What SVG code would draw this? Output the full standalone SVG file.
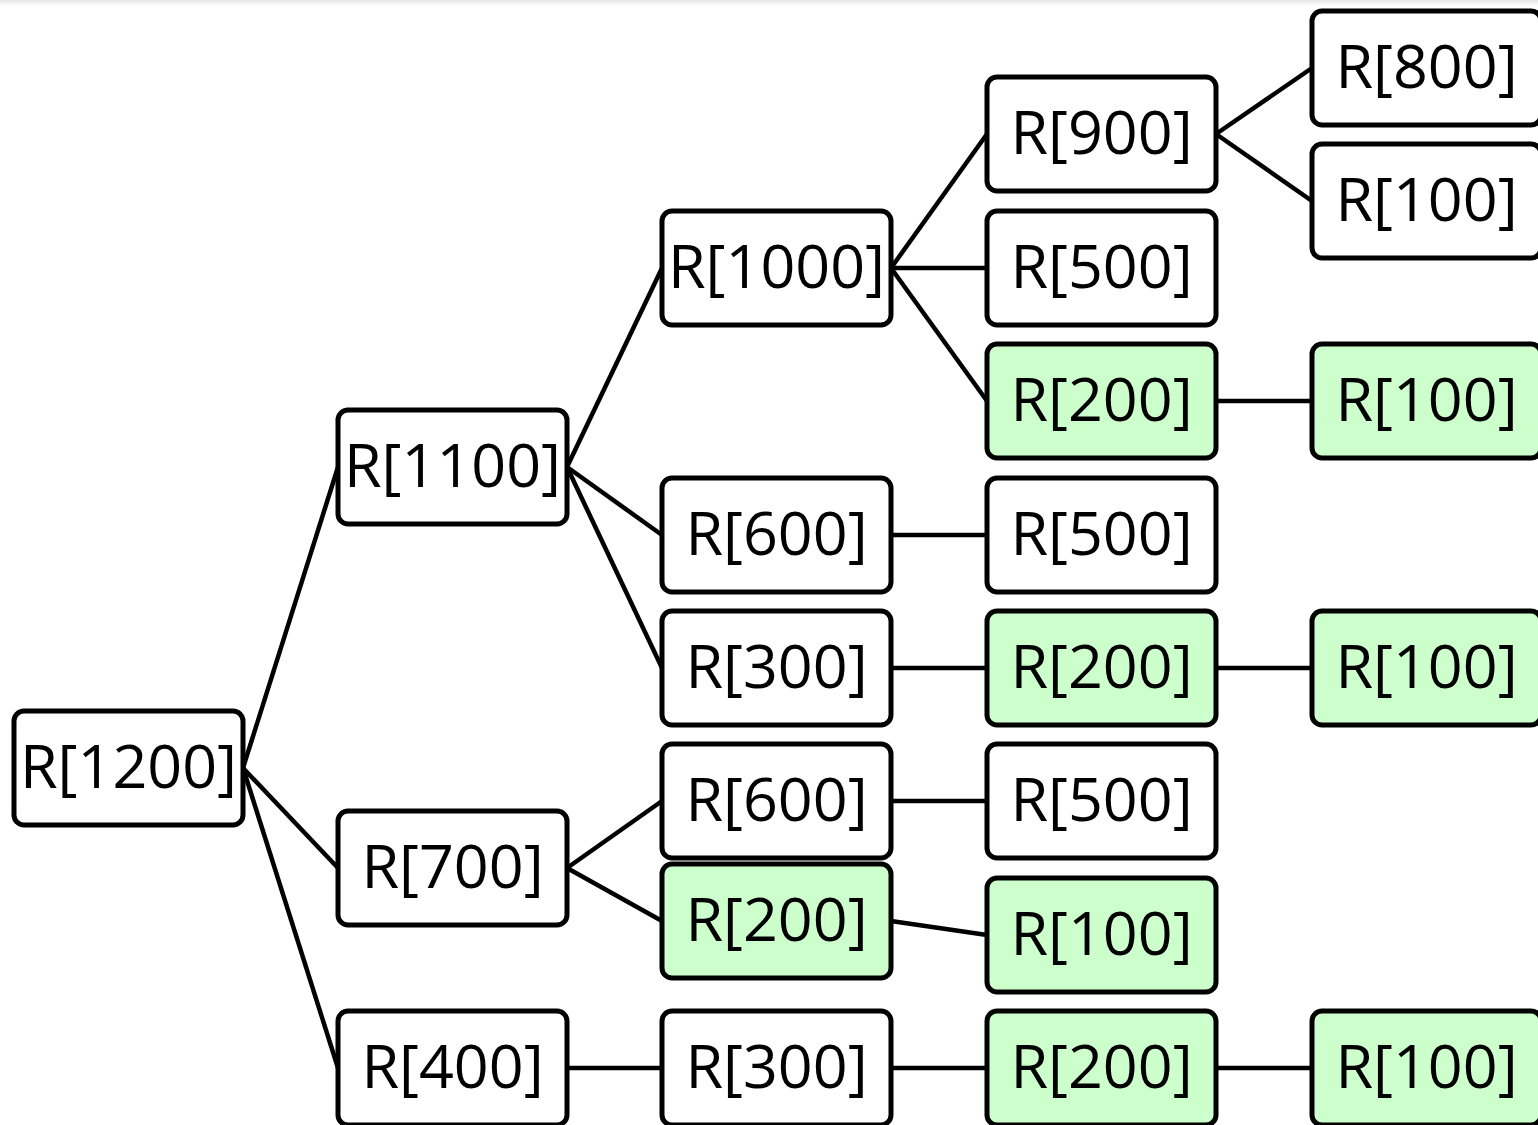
<svg xmlns="http://www.w3.org/2000/svg" width="1538" height="1125" viewBox="0 0 1538 1125">
<defs>
<linearGradient id="topshade" x1="0" y1="0" x2="0" y2="1">
<stop offset="0" stop-color="#e6e6e6"/>
<stop offset="1" stop-color="#ffffff"/>
</linearGradient>
</defs>
<style>
.box{fill:#ffffff;stroke:#000;stroke-width:5}
.hit{fill:#ccffcc;stroke:#000;stroke-width:5}
.lbl{font-family:"Open Sans","Noto Sans",sans-serif;font-size:61px;fill:#000;text-anchor:middle}
.edge{stroke:#000;stroke-width:4.5;fill:none}
</style>
<rect x="0" y="0" width="1538" height="1125" fill="#ffffff"/>
<rect x="0" y="0" width="1538" height="6" fill="url(#topshade)"/>
<g id="connectors">
<line class="edge" x1="243" y1="768" x2="338" y2="467"/>
<line class="edge" x1="243" y1="768" x2="338" y2="868"/>
<line class="edge" x1="243" y1="768" x2="338" y2="1068"/>
<line class="edge" x1="567" y1="467" x2="662" y2="268"/>
<line class="edge" x1="567" y1="467" x2="662" y2="535"/>
<line class="edge" x1="567" y1="467" x2="662" y2="668"/>
<line class="edge" x1="567" y1="868" x2="662" y2="801"/>
<line class="edge" x1="567" y1="868" x2="662" y2="921"/>
<line class="edge" x1="567" y1="1068" x2="662" y2="1068"/>
<line class="edge" x1="891" y1="268" x2="987" y2="134"/>
<line class="edge" x1="891" y1="268" x2="987" y2="268"/>
<line class="edge" x1="891" y1="268" x2="987" y2="401"/>
<line class="edge" x1="891" y1="535" x2="987" y2="535"/>
<line class="edge" x1="891" y1="668" x2="987" y2="668"/>
<line class="edge" x1="891" y1="801" x2="987" y2="801"/>
<line class="edge" x1="891" y1="921" x2="987" y2="935"/>
<line class="edge" x1="891" y1="1068" x2="987" y2="1068"/>
<line class="edge" x1="1216" y1="134" x2="1312" y2="68"/>
<line class="edge" x1="1216" y1="134" x2="1312" y2="201"/>
<line class="edge" x1="1216" y1="401" x2="1312" y2="401"/>
<line class="edge" x1="1216" y1="668" x2="1312" y2="668"/>
<line class="edge" x1="1216" y1="1068" x2="1312" y2="1068"/>
</g>
<g id="n1200"><rect class="box" x="14" y="711" width="229" height="114" rx="10"/><text class="lbl" x="128.5" y="788">R[1200]</text></g>
<g id="n1100"><rect class="box" x="338" y="410" width="229" height="114" rx="10"/><text class="lbl" x="452.5" y="487">R[1100]</text></g>
<g id="n700"><rect class="box" x="338" y="811" width="229" height="114" rx="10"/><text class="lbl" x="452.5" y="888">R[700]</text></g>
<g id="n400"><rect class="box" x="338" y="1011" width="229" height="114" rx="10"/><text class="lbl" x="452.5" y="1088">R[400]</text></g>
<g id="n1000"><rect class="box" x="662" y="211" width="229" height="114" rx="10"/><text class="lbl" x="776.5" y="288">R[1000]</text></g>
<g id="n600a"><rect class="box" x="662" y="478" width="229" height="114" rx="10"/><text class="lbl" x="776.5" y="555">R[600]</text></g>
<g id="n300a"><rect class="box" x="662" y="611" width="229" height="114" rx="10"/><text class="lbl" x="776.5" y="688">R[300]</text></g>
<g id="n600b"><rect class="box" x="662" y="744" width="229" height="114" rx="10"/><text class="lbl" x="776.5" y="821">R[600]</text></g>
<g id="n200c"><rect class="hit" x="662" y="864" width="229" height="114" rx="10"/><text class="lbl" x="776.5" y="941">R[200]</text></g>
<g id="n300b"><rect class="box" x="662" y="1011" width="229" height="114" rx="10"/><text class="lbl" x="776.5" y="1088">R[300]</text></g>
<g id="n900"><rect class="box" x="987" y="77" width="229" height="114" rx="10"/><text class="lbl" x="1101.5" y="154">R[900]</text></g>
<g id="n500a"><rect class="box" x="987" y="211" width="229" height="114" rx="10"/><text class="lbl" x="1101.5" y="288">R[500]</text></g>
<g id="n200a"><rect class="hit" x="987" y="344" width="229" height="114" rx="10"/><text class="lbl" x="1101.5" y="421">R[200]</text></g>
<g id="n500b"><rect class="box" x="987" y="478" width="229" height="114" rx="10"/><text class="lbl" x="1101.5" y="555">R[500]</text></g>
<g id="n200b"><rect class="hit" x="987" y="611" width="229" height="114" rx="10"/><text class="lbl" x="1101.5" y="688">R[200]</text></g>
<g id="n500c"><rect class="box" x="987" y="744" width="229" height="114" rx="10"/><text class="lbl" x="1101.5" y="821">R[500]</text></g>
<g id="n100d"><rect class="hit" x="987" y="878" width="229" height="114" rx="10"/><text class="lbl" x="1101.5" y="955">R[100]</text></g>
<g id="n200d"><rect class="hit" x="987" y="1011" width="229" height="114" rx="10"/><text class="lbl" x="1101.5" y="1088">R[200]</text></g>
<g id="n800"><rect class="box" x="1312" y="11" width="229" height="114" rx="10"/><text class="lbl" x="1426.5" y="88">R[800]</text></g>
<g id="n100a"><rect class="box" x="1312" y="144" width="229" height="114" rx="10"/><text class="lbl" x="1426.5" y="221">R[100]</text></g>
<g id="n100b"><rect class="hit" x="1312" y="344" width="229" height="114" rx="10"/><text class="lbl" x="1426.5" y="421">R[100]</text></g>
<g id="n100c"><rect class="hit" x="1312" y="611" width="229" height="114" rx="10"/><text class="lbl" x="1426.5" y="688">R[100]</text></g>
<g id="n100e"><rect class="hit" x="1312" y="1011" width="229" height="114" rx="10"/><text class="lbl" x="1426.5" y="1088">R[100]</text></g>
</svg>
